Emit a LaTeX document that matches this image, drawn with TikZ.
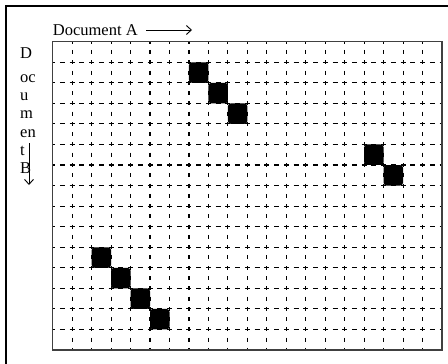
\documentclass[tikz,border=0pt]{standalone}
\usepackage{fontspec}
\setmainfont{Liberation Serif}
\usetikzlibrary{arrows.meta}
\begin{document}
\begin{tikzpicture}[x=1pt,y=-1pt,
  lbl/.style={inner sep=0pt, anchor=base west, font=\fontsize{16.5}{18}\selectfont},
  gridv/.style={line width=1.1pt, dash pattern=on 4pt off 6.275pt, dash phase=2pt},
  gridh/.style={line width=1.1pt, dash pattern=on 5pt off 4.735pt, dash phase=2.5pt},
  hit/.style={fill=black, draw=none, rounded corners=3pt, inner sep=0pt, minimum width=19.5pt, minimum height=20.5pt},
  arr/.style={line width=0.9pt, -{Straight Barb[length=5pt,width=9pt,line width=0.9pt]}}]
\useasboundingbox (0,0) rectangle (448,364);
\clip (0,0) rectangle (448,364);
% outer frame (cropped at right and bottom)
\draw[line width=1.4pt] (6,6) rectangle (470,390);
% grid
\def\gx{52.7}\def\gy{41.7}\def\cw{19.465}\def\ch{20.553}
\foreach \i in {1,...,19}
  \draw[gridv] ({\gx+\i*\cw},\gy) -- ({\gx+\i*\cw},350);
\foreach \j in {1,...,14}
  \draw[gridh] (\gx,{\gy+\j*\ch}) -- (442,{\gy+\j*\ch});
\draw[line width=1.3pt, black!75] (\gx,\gy) rectangle (442,350);
% matches
\foreach \c/\r in {7/1,8/2,9/3,16/5,17/6,2/10,3/11,4/12,5/13}
  \node[hit] (s\c-\r) at ({\gx+(\c+0.5)*\cw},{\gy+(\r+0.5)*\ch}) {};
% labels
\node[lbl] (docA) at (52.7,35) {Document A};
\coordinate (ha1) at (146,30);
\coordinate (ha2) at (192,30);
\draw[arr] (ha1) -- (ha2);
\node[lbl] (b1) at (20,58) {D};
\node[lbl] (b2) at (20,82) {oc};
\node[lbl] (b3) at (20,100) {u};
\node[lbl] (b4) at (20,118) {m};
\node[lbl] (b5) at (20,137) {en};
\node[lbl] (b6) at (20,155) {t};
\node[lbl] (b7) at (20,173) {B};
\coordinate (va1) at (29,143);
\coordinate (va2) at (29,185);
\draw[arr] (va1) -- (va2);
\end{tikzpicture}
\end{document}
